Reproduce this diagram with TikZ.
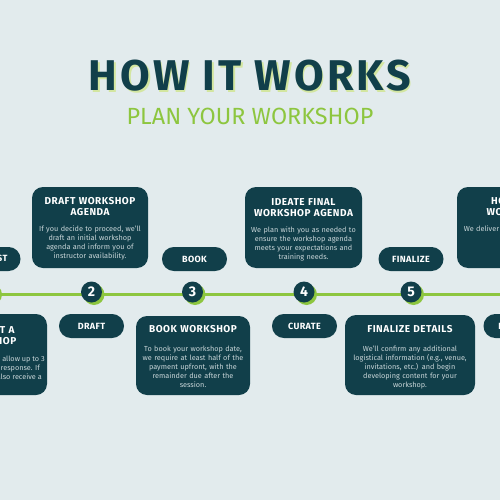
\documentclass[tikz,border=0pt]{standalone}
\usepackage{fontspec}
\setmainfont{Fira Sans}
\definecolor{bg}{HTML}{E2EBED}
\definecolor{dt}{HTML}{113F4A}
\definecolor{grn}{HTML}{8DC63F}
\definecolor{shadowgrn}{HTML}{D3E6A0}
\definecolor{bodycol}{HTML}{C8D5D8}
\begin{document}
\begin{tikzpicture}[x=1pt,y=-1pt,
  box/.style={fill=dt, rounded corners=11pt, inner sep=0pt},
  pill/.style={fill=dt, rounded corners=11.9pt, minimum width=65pt, minimum height=24pt, inner sep=0pt, text=white,
    font=\bfseries\fontsize{9}{9}\selectfont\addfontfeature{LetterSpace=4}},
  btitle/.style={text=white, align=center, text width=125pt, inner sep=0pt, anchor=north,
    font=\bfseries\fontsize{10}{11}\selectfont\addfontfeature{LetterSpace=5}},
  btext/.style={text=bodycol, align=center, text width=128pt, inner sep=0pt, anchor=north,
    font=\fontsize{7.3}{9}\selectfont},
  bline/.style={text=bodycol, inner sep=0pt, anchor=base east, font=\fontsize{7.3}{9}\selectfont},
  num/.style={circle, fill=dt, minimum size=21pt, inner sep=0pt, text=white,
    font=\bfseries\fontsize{14}{14}\selectfont},
  shad/.style={circle, fill=grn, minimum size=21pt, inner sep=0pt},
  bigtitle/.style={inner sep=0pt, font=\bfseries\fontsize{43}{43}\selectfont\addfontfeature{LetterSpace=7}}
]
\useasboundingbox (0,0) rectangle (500,500);
\clip (0,0) rectangle (500,500);
\fill[bg] (0,0) rectangle (500,500);

% title
\node[bigtitle, text=shadowgrn] (titleshadow) at (251.5,77.5) {HOW IT WORKS};
\node[bigtitle, text=dt] (title) at (250,76) {HOW IT WORKS};
\node[text=grn, inner sep=0pt, font=\fontsize{23.4}{23.4}\selectfont] (subtitle) at (250,116) {PLAN YOUR WORKSHOP};

% timeline
\coordinate (tl) at (0,294);
\coordinate (tr) at (500,294);
\draw[grn, line width=3pt] (tl) -- (tr);

\foreach \i/\x in {1/-11, 2/91.5, 3/192.5, 4/304, 5/411, 6/515}{
  \node[shad] (s\i) at (\x+2.5,294.5) {};
  \node[num] (c\i) at (\x,292) {\i};
}

% pills
\node[pill] (p1) at (-12,259) {REQUEST};
\node[pill] (p3) at (194.5,259) {BOOK};
\node[pill] (p5) at (411,259) {FINALIZE};
\node[pill] (p2) at (91.5,326) {DRAFT};
\node[pill] (p4) at (304.5,326) {CURATE};
\node[pill] (p6) at (516,326) {DELIVER};

% upper boxes
\node[box, minimum width=116pt, minimum height=81pt] (b2) at (90,227.5) {};
\node[btitle] (b2t) at (90,197.5) {DRAFT WORKSHOP\\AGENDA};
\node[btext] (b2x) at (90,226) {If you decide to proceed, we'll\\draft an initial workshop\\agenda and inform you of\\instructor availability.};

\node[box, minimum width=117pt, minimum height=81pt] (b4) at (303.5,227.5) {};
\node[btitle] (b4t) at (303.5,198.5) {IDEATE FINAL\\WORKSHOP AGENDA};
\node[btext] (b4x) at (303.5,227) {We plan with you as needed to\\ensure the workshop agenda\\meets your expectations and\\training needs.};

\node[box, minimum width=116pt, minimum height=81pt] (b6) at (515,227.5) {};
\node[btitle] (b6t) at (515,197.5) {HOST THE\\WORKSHOP};
\node[btext] (b6x) at (515,226) {We deliver your workshop and};

% lower boxes
\node[box, minimum width=130pt, minimum height=81pt] (b1) at (-18,354.5) {};
\node[btitle] (b1t) at (-12,326.5) {REQUEST A\\WORKSHOP};
\node[bline] (b1x1) at (45,361) {Submit a request form and allow up to 3};
\node[bline] (b1x2) at (40,370) {business days for a response. If};
\node[bline] (b1x3) at (42,379) {approved, you'll also receive a};

\node[box, minimum width=114pt, minimum height=79pt] (b3) at (193,355.5) {};
\node[btitle] (b3t) at (193,325.5) {BOOK WORKSHOP};
\node[btext] (b3x) at (193,345.5) {To book your workshop date,\\we require at least half of the\\payment upfront, with the\\remainder due after the\\session.};

\node[box, minimum width=130pt, minimum height=80pt] (b5) at (410,355) {};
\node[btitle] (b5t) at (410,325.5) {FINALIZE DETAILS};
\node[btext] (b5x) at (410,345.5) {We'll confirm any additional\\logistical information (e.g., venue,\\invitations, etc.) and begin\\developing content for your\\workshop.};
\end{tikzpicture}
\end{document}
